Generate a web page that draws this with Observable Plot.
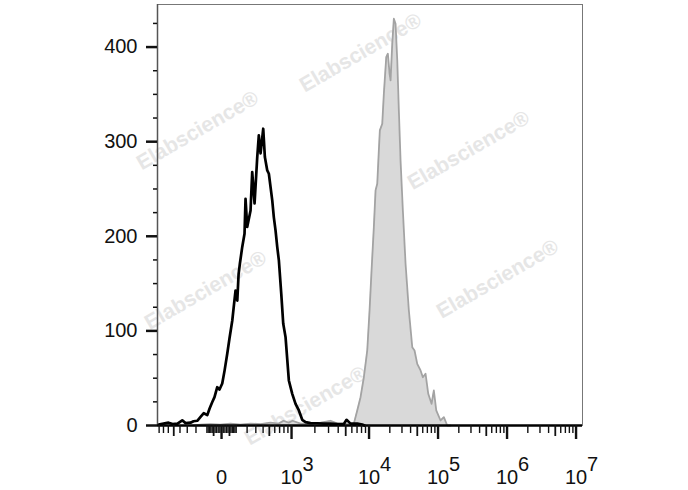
<!DOCTYPE html>
<html>
<head>
<meta charset="utf-8">
<script src="https://cdn.jsdelivr.net/npm/d3@7"></script>
<script src="https://cdn.jsdelivr.net/npm/@observablehq/plot@0.6"></script>
<style>
  html, body { margin: 0; padding: 0; background: #fff; }
</style>
</head>
<body>
<div id="chart"></div>
<script>
// ---------- data (fluorescence intensity, event count) ----------
const blackX = [-814, -699, -596, -521, -438, -367, -322, -260, -226, -187, -155, -126, -97, -79, -60, -44, -26, -12, 4, 18, 35, 50, 70, 83, 95, 109, 120, 131, 152, 174, 184, 201, 237, 256, 284, 318, 339, 363, 402, 427, 465, 492, 552, 582, 615, 650, 684, 737, 783, 839, 925, 1021, 1126, 1243, 1374, 1516, 1758, 2146, 2588, 3184, 3923, 4730, 5125, 5767, 7041, 8171, 8750];
const blackY = [1, 2, 3, 1.5, 2, 5.5, 2.5, 3, 4.5, 5, 9, 13, 11, 18, 24.6, 30, 40.5, 38, 44.4, 58, 75.8, 92, 111, 128, 142.7, 132, 160, 171, 188.5, 202.7, 239.7, 209.8, 227.3, 267.8, 234.7, 283.7, 306.6, 287.6, 313.7, 283.7, 269.6, 266.1, 237.9, 220, 206.2, 188.5, 174.5, 139.2, 107.5, 93.4, 47.6, 33.5, 22.9, 15.9, 6, 3.5, 2.5, 2.4, 2, 2, 1.5, 1.5, 6, 2, 2, 1, 0];

const grayX = [-226, -155, -72, -6, 57, 137, 237, 363, 521, 678, 790, 920, 1030, 1307, 1758, 2367, 3184, 3923, 4976, 5767, 6367, 7041, 7768, 8570, 9479, 10168, 10870, 11738, 12426, 13150, 13868, 14338, 15537, 16390, 17757, 18729, 19823, 20497, 21692, 22879, 24218, 25630, 27032, 28613, 30900, 33810, 37750, 42280, 45630, 49940, 55780, 60220, 65900, 72110, 80520, 86920, 94170, 108700, 121400, 135900, 151800];
const grayY = [0, 1, 1.5, 1, 2, 1, 2, 1.5, 3, 2, 5, 3, 5, 2, 2, 3, 5, 2, 2, 1, 2, 15.9, 29.9, 51, 79.3, 121.6, 163.9, 209.7, 248.5, 255.6, 290.8, 311.9, 319, 350.7, 389.4, 393, 371.9, 364.8, 403.6, 430, 424.7, 386, 333, 280, 227.3, 171, 121.6, 82.8, 79.3, 65.2, 58.2, 51, 54.7, 33.5, 22.9, 37, 15.9, 5.3, 8.8, 0, 0];

const yMajorTicks = [0, 100, 200, 300, 400];
const yMinorTicks = [25, 50, 75, 125, 150, 175, 225, 250, 275, 325, 350, 375, 425];
const xMajorTicks = [0, 1e3, 1e4, 1e5, 1e6, 1e7];
const xTickBase = ["0", "10", "10", "10", "10", "10"];
const xTickExp = ["", "3", "4", "5", "6", "7"];
const xMidTicks = [-500, -50, 50, 500, 5e3, 5e4, 5e5, 5e6];
const xMinorTicks = [
  -800, -700, -600, -400, -300, -200, -100,
  -90, -80, -70, -60, -40, -30, -20, -10,
  10, 20, 30, 40, 60, 70, 80, 90,
  100, 200, 300, 400, 600, 700, 800, 900,
  2e3, 3e3, 4e3, 6e3, 7e3, 8e3, 9e3,
  2e4, 3e4, 4e4, 6e4, 7e4, 8e4, 9e4,
  2e5, 3e5, 4e5, 6e5, 7e5, 8e5, 9e5,
  2e6, 3e6, 4e6, 6e6, 7e6, 8e6, 9e6
];
const watermarkX = [7768, -184, 276700, -111, 728000, 1516];
const watermarkY = [394, 312, 291, 143, 155, 21];
const watermarkText = "Elabscience®";

// ---------- biexponential-like display transform ----------
function biex(v) {
  const a = Math.abs(v);
  const lin = (70 / 69) * Math.log1p(a / 250) / Math.log(5);
  if (v < 1000) return 1.8623 + Math.sign(v) * lin;
  if (v < 1e4) return 4 - (4 - Math.log10(v)) * 77.5 / 69;
  return Math.log10(v);
}

const black = blackX.map((x, i) => ({x, y: blackY[i]}));
const gray = grayX.map((x, i) => ({x, y: grayY[i]}));
const xLabels = xMajorTicks.map((v, i) => ({v, base: xTickBase[i], exp: xTickExp[i]}));
const marks = watermarkX.map((x, i) => ({x, y: watermarkY[i]}));

const chart = Plot.plot({
  width: 688,
  height: 490,
  marginLeft: 157,
  marginRight: 106,
  marginTop: 4,
  marginBottom: 65,
  style: {fontFamily: "'Liberation Sans', Arial, sans-serif", background: "#fff", color: "#111"},
  x: {type: "linear", domain: [biex(-840), biex(1.24e7)], label: null},
  y: {domain: [0, 445], label: null},
  marks: [
    Plot.text(marks, {x: d => biex(d.x), y: "y", text: () => watermarkText, rotate: -30,
      fontSize: 21, fontWeight: "bold", fill: "#e6e6e6"}),
    Plot.areaY(gray, {x: d => biex(d.x), y: "y", fill: "#d9d9d9"}),
    Plot.line(gray, {x: d => biex(d.x), y: "y", stroke: "#a3a3a3", strokeWidth: 1.8}),
    Plot.line(black, {x: d => biex(d.x), y: "y", stroke: "#000", strokeWidth: 2.7, strokeLinejoin: "round"}),
    Plot.frame({stroke: "#777", strokeWidth: 1}),
    Plot.ruleX([biex(-840)], {stroke: "#555", strokeWidth: 1.5}),
    Plot.ruleY([0], {stroke: "#000", strokeWidth: 2.5}),
    Plot.axisY({ticks: yMajorTicks, tickSize: 11, tickPadding: 9, fontSize: 20, strokeWidth: 2.5}),
    Plot.axisY({ticks: yMinorTicks, tickSize: 4, tickFormat: () => "", strokeWidth: 1.5}),
    Plot.axisX({ticks: xMajorTicks.map(biex), tickSize: 14, tickFormat: () => "", strokeWidth: 2.4}),
    Plot.axisX({ticks: xMidTicks.map(biex), tickSize: 11, tickFormat: () => "", strokeWidth: 1.8}),
    Plot.axisX({ticks: xMinorTicks.map(biex), tickSize: 8, tickFormat: () => "", strokeWidth: 1.4}),
    Plot.text(xLabels, {x: d => biex(d.v), text: "base", frameAnchor: "bottom", lineAnchor: "bottom",
      dy: 58, fontSize: 20, fill: "#111"}),
    Plot.text(xLabels.filter(d => d.exp), {x: d => biex(d.v), text: "exp", frameAnchor: "bottom",
      lineAnchor: "bottom", textAnchor: "start", dx: 11, dy: 45, fontSize: 20, fill: "#111"})
  ]
});
document.getElementById("chart").appendChild(chart);
</script>
</body>
</html>
